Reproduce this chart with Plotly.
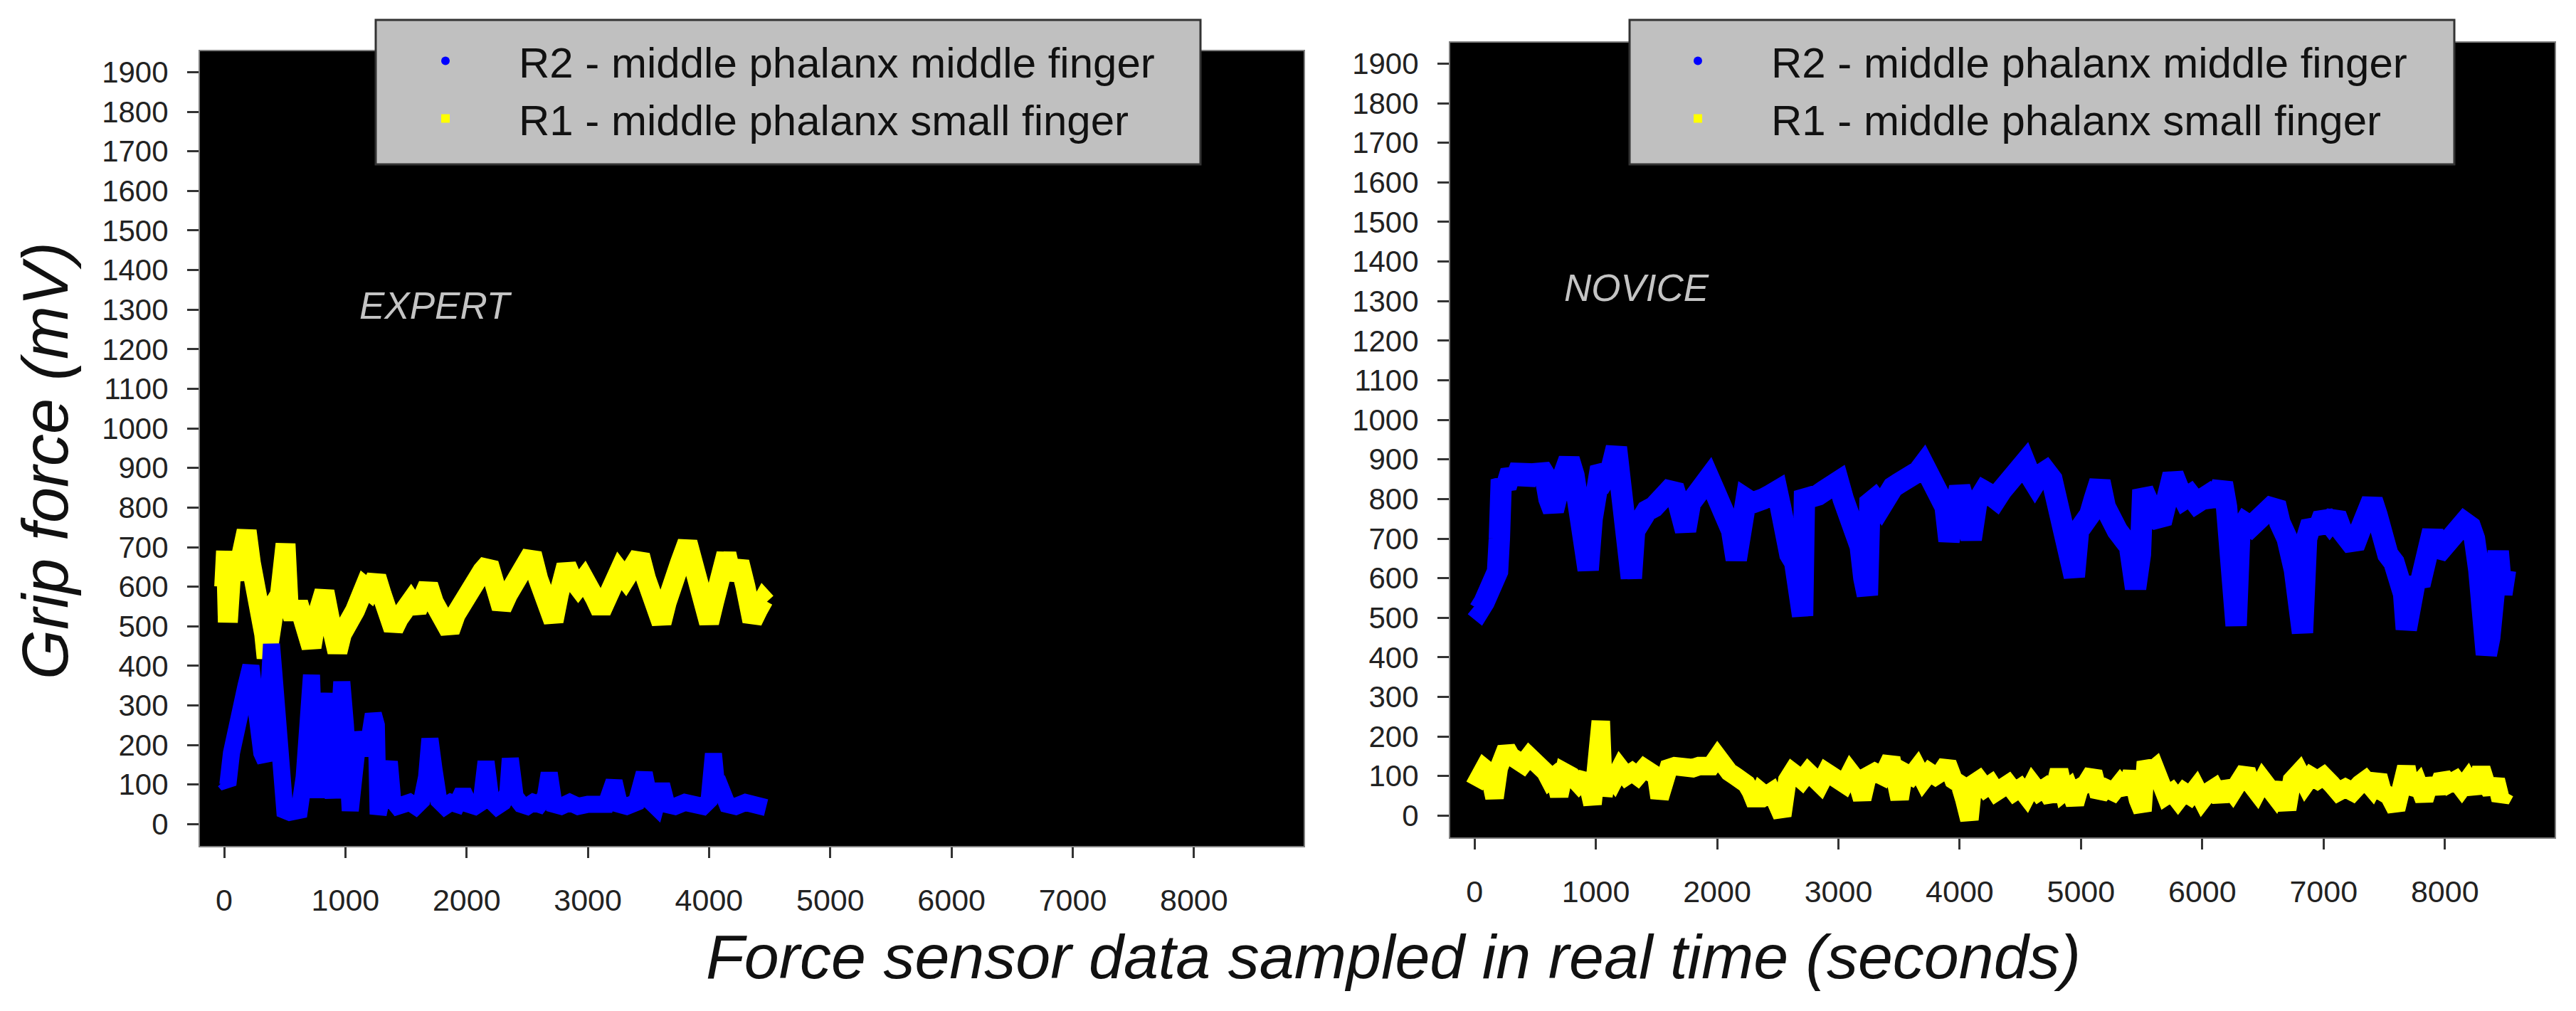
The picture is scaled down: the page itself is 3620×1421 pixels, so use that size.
import plotly.graph_objects as go

# ---------------- data ----------------
X_TICKS = [0, 1000, 2000, 3000, 4000, 5000, 6000, 7000, 8000]
Y_TICKS = list(range(0, 2000, 100))

LABEL_R2 = "R2 - middle phalanx middle finger"
LABEL_R1 = "R1 - middle phalanx small finger"

# EXPERT, R2 (blue)
EXP_R2_T = [0, 30, 60, 100, 140, 180, 220, 250, 280, 310, 340, 370, 390, 410, 440, 470, 500, 540, 580, 620,
            660, 690, 720, 740, 760, 790, 830, 860, 900, 940, 970, 1000, 1040, 1070, 1110, 1150, 1190, 1230, 1255, 1270,
            1300, 1330, 1362, 1390, 1430, 1480, 1530, 1580, 1630, 1670, 1697, 1730, 1770, 1820, 1870, 1920, 1970, 2020, 2070, 2120,
            2160, 2200, 2250, 2300, 2340, 2360, 2400, 2450, 2500, 2550, 2600, 2650, 2681, 2720, 2780, 2850, 2920, 3000, 3080, 3150,
            3216, 3260, 3320, 3400, 3465, 3510, 3560, 3608, 3650, 3720, 3800, 3880, 3950, 4000, 4036, 4070, 4107, 4150, 4220, 4300,
            4370, 4440, 4470]
EXP_R2_V = [110, 100, 180, 260, 310, 350, 400, 300, 220, 180, 160, 300, 455, 380, 200, 60, 35, 30, 30, 35,
            120, 250, 377, 200, 67, 200, 331, 150, 67, 200, 360, 250, 34, 120, 232, 180, 200, 278, 250, 25,
            60, 90, 158, 60, 45, 50, 55, 45, 60, 120, 216, 140, 60, 45, 55, 50, 83, 50, 45, 55,
            158, 60, 45, 55, 80, 166, 70, 50, 45, 55, 50, 70, 129, 50, 45, 55, 45, 50, 45, 50,
            108, 50, 45, 55, 129, 60, 45, 100, 50, 45, 55, 50, 45, 60, 178, 70, 83, 50, 45, 55,
            50, 45, 42]

# EXPERT, R1 (yellow)
EXP_R1_T = [0, 15, 30, 60, 100, 150, 185, 220, 260, 300, 330, 350, 380, 420, 460, 506, 530, 570, 610, 650,
            690, 720, 760, 800, 827, 870, 900, 934, 970, 1010, 1041, 1080, 1120, 1160, 1200, 1255, 1300, 1350, 1397, 1440,
            1490, 1540, 1590, 1640, 1683, 1730, 1780, 1820, 1861, 1910, 1968, 2020, 2080, 2130, 2182, 2230, 2289, 2340, 2390, 2440,
            2490, 2538, 2590, 2640, 2680, 2717, 2760, 2823, 2870, 2920, 2970, 3020, 3060, 3109, 3160, 3210, 3260, 3310, 3370, 3430,
            3480, 3530, 3570, 3608, 3650, 3700, 3760, 3822, 3870, 3920, 3960, 4000, 4040, 4080, 4110, 4143, 4190, 4250, 4300, 4330,
            4357, 4400, 4449, 4470]
EXP_R1_V = [600, 690, 510, 650, 620, 680, 741, 660, 600, 560, 480, 420, 520, 560, 580, 708, 560, 520, 560, 520,
            480, 447, 520, 570, 588, 520, 470, 435, 480, 500, 497, 540, 570, 600, 590, 625, 580, 530, 493, 520,
            550, 563, 540, 580, 604, 560, 520, 500, 488, 530, 563, 600, 620, 640, 658, 600, 546, 580, 610, 640,
            660, 683, 620, 580, 540, 513, 580, 654, 620, 600, 620, 600, 570, 538, 580, 610, 640, 620, 650, 679,
            620, 570, 540, 509, 560, 620, 660, 712, 650, 590, 540, 509, 560, 640, 620, 683, 620, 662, 600, 550,
            513, 540, 567, 560]

# NOVICE, R2 (blue)
NOV_R2_T = [0, 40, 80, 120, 160, 190, 205, 221, 260, 300, 340, 380, 420, 460, 500, 540, 580, 614, 650, 698,
            740, 780, 820, 860, 900, 937, 970, 1000, 1040, 1090, 1130, 1170, 1200, 1240, 1270, 1293, 1320, 1360, 1420, 1480,
            1540, 1597, 1638, 1680, 1709, 1740, 1780, 1830, 1880, 1933, 1980, 2030, 2080, 2120, 2158, 2200, 2240, 2290, 2330, 2380,
            2440, 2495, 2523, 2560, 2600, 2640, 2670, 2705, 2720, 2770, 2832, 2880, 2940, 3000, 3040, 3090, 3140, 3180, 3210, 3239,
            3260, 3300, 3350, 3393, 3450, 3500, 3560, 3617, 3660, 3702, 3740, 3786, 3840, 3880, 3912, 3950, 4000, 4050, 4095, 4140,
            4200, 4258, 4300, 4342, 4400, 4454, 4500, 4538, 4580, 4620, 4660, 4710, 4760, 4800, 4850, 4900, 4945, 4980, 5030, 5072,
            5110, 5156, 5200, 5250, 5300, 5350, 5400, 5450, 5490, 5510, 5550, 5600, 5661, 5700, 5759, 5800, 5850, 5900, 5950, 6000,
            6050, 6100, 6166, 6200, 6240, 6279, 6310, 6350, 6400, 6447, 6500, 6560, 6602, 6640, 6700, 6760, 6800, 6826, 6860, 6900,
            6952, 7000, 7050, 7100, 7149, 7200, 7250, 7300, 7345, 7401, 7440, 7480, 7530, 7580, 7626, 7660, 7682, 7720, 7760, 7794,
            7830, 7870, 7900, 7935, 7991, 8050, 8100, 8160, 8210, 8244, 8280, 8310, 8342, 8370, 8400, 8440, 8470, 8500]
NOV_R2_V = [530, 520, 540, 560, 590, 617, 700, 849, 830, 870, 850, 883, 840, 870, 850, 880, 860, 800, 771, 830,
            870, 900, 860, 800, 700, 621, 750, 850, 880, 860, 880, 930, 850, 760, 680, 600, 720, 750, 770, 780,
            800, 810, 832, 790, 740, 720, 790, 810, 830, 853, 820, 790, 760, 720, 647, 770, 800, 790, 790, 800,
            810, 820, 780, 690, 660, 640, 560, 505, 800, 800, 810, 820, 830, 844, 800, 760, 720, 680, 600, 557,
            790, 800, 780, 810, 830, 840, 850, 857, 870, 887, 860, 820, 800, 780, 694, 800, 830, 780, 698, 790,
            820, 810, 800, 820, 840, 850, 870, 892, 860, 840, 860, 870, 850, 800, 760, 700, 604, 720, 740, 760,
            800, 844, 780, 740, 720, 700, 680, 574, 660, 823, 780, 760, 740, 800, 862, 830, 800, 810, 790, 800,
            810, 790, 840, 780, 650, 480, 720, 740, 730, 740, 760, 780, 789, 740, 700, 620, 540, 462, 700, 740,
            720, 760, 740, 760, 720, 700, 680, 720, 760, 797, 760, 700, 660, 640, 610, 560, 471, 600, 600, 583,
            640, 700, 720, 660, 680, 700, 720, 741, 730, 700, 620, 500, 407, 450, 580, 668, 560, 620]

# NOVICE, R1 (yellow)
NOV_R1_T = [0, 40, 80, 120, 165, 200, 263, 300, 350, 400, 450, 500, 550, 586, 620, 660, 698, 740, 800, 860,
            920, 973, 1000, 1020, 1041, 1055, 1063, 1100, 1150, 1200, 1250, 1300, 1344, 1400, 1450, 1500, 1526, 1560, 1600, 1650,
            1700, 1750, 1800, 1850, 1900, 1950, 2004, 2050, 2100, 2150, 2200, 2242, 2280, 2320, 2360, 2400, 2450, 2500, 2537, 2579,
            2620, 2663, 2700, 2750, 2800, 2850, 2900, 2944, 3000, 3050, 3100, 3150, 3196, 3240, 3300, 3365, 3435, 3470, 3505, 3540,
            3600, 3650, 3700, 3750, 3800, 3850, 3898, 3950, 4000, 4039, 4080, 4110, 4160, 4210, 4258, 4300, 4350, 4400, 4450, 4500,
            4550, 4600, 4650, 4700, 4760, 4819, 4860, 4900, 4950, 4987, 5040, 5100, 5150, 5200, 5268, 5320, 5370, 5420, 5470, 5507,
            5535, 5570, 5610, 5661, 5700, 5750, 5800, 5850, 5900, 5950, 6000, 6050, 6100, 6150, 6200, 6250, 6300, 6363, 6400, 6450,
            6500, 6550, 6600, 6643, 6700, 6740, 6800, 6850, 6896, 6950, 7000, 7064, 7120, 7180, 7240, 7300, 7345, 7400, 7450, 7486,
            7540, 7598, 7640, 7682, 7720, 7780, 7830, 7880, 7930, 7980, 8030, 8090, 8140, 8188, 8240, 8300, 8340, 8380, 8420, 8460,
            8496]
NOV_R1_V = [75, 90, 120, 110, 45, 120, 170, 150, 140, 130, 150, 140, 120, 110, 90, 100, 50, 110, 100, 80,
            100, 29, 110, 160, 239, 130, 50, 110, 90, 120, 100, 110, 100, 120, 110, 100, 45, 110, 120, 125,
            120, 125, 120, 125, 130, 125, 149, 120, 110, 100, 90, 80, 60, 30, 60, 50, 60, 20, 0, 90,
            110, 100, 90, 110, 100, 80, 110, 100, 90, 80, 110, 90, 42, 100, 110, 100, 145, 100, 42, 110,
            100, 120, 90, 110, 100, 110, 132, 90, 80, 40, -10, 80, 90, 70, 80, 60, 70, 80, 60, 70,
            50, 80, 60, 70, 40, 115, 60, 70, 30, 70, 80, 110, 50, 70, 60, 80, 60, 110, 40, 12,
            136, 110, 120, 70, 50, 60, 40, 60, 50, 70, 40, 60, 70, 40, 80, 60, 90, 115, 80, 60,
            90, 70, 50, 80, 16, 90, 110, 80, 100, 90, 100, 80, 60, 70, 60, 80, 90, 70, 100, 60,
            50, 16, 80, 123, 60, 80, 40, 90, 60, 100, 80, 90, 70, 90, 60, 119, 80, 60, 90, 40,
            60]

for a, b in [(EXP_R2_T, EXP_R2_V), (EXP_R1_T, EXP_R1_V), (NOV_R2_T, NOV_R2_V), (NOV_R1_T, NOV_R1_V)]:
    assert len(a) == len(b), (len(a), len(b))

# ---------------- styling ----------------
W, H = 3620, 1421
FONT = "Liberation Sans, Arial, Helvetica, sans-serif"
BLUE = "#0000ff"
YELLOW = "#ffff00"


def px(xp):
    return xp / W


def py(yp):
    return 1 - yp / H


fig = go.Figure()

fig.add_trace(go.Scatter(x=EXP_R1_T, y=EXP_R1_V, mode="lines", line=dict(color=YELLOW, width=28),
                         xaxis="x", yaxis="y", showlegend=False, name=LABEL_R1))
fig.add_trace(go.Scatter(x=EXP_R2_T, y=EXP_R2_V, mode="lines", line=dict(color=BLUE, width=24),
                         xaxis="x", yaxis="y", showlegend=False, name=LABEL_R2))
fig.add_trace(go.Scatter(x=NOV_R2_T, y=NOV_R2_V, mode="lines", line=dict(color=BLUE, width=30),
                         xaxis="x2", yaxis="y2", showlegend=False, name=LABEL_R2))
fig.add_trace(go.Scatter(x=NOV_R1_T, y=NOV_R1_V, mode="lines", line=dict(color=YELLOW, width=26),
                         xaxis="x2", yaxis="y2", showlegend=False, name=LABEL_R1))

# legend entries (one legend per panel)
for lg in ["legend", "legend2"]:
    fig.add_trace(go.Scatter(x=[None], y=[None], mode="markers", name=LABEL_R2, legend=lg,
                             marker=dict(color=BLUE, size=12, symbol="circle")))
    fig.add_trace(go.Scatter(x=[None], y=[None], mode="markers", name=LABEL_R1, legend=lg,
                             marker=dict(color=YELLOW, size=12, symbol="square")))

axis_common = dict(
    ticks="outside", tickwidth=3, tickcolor="#333333",
    showgrid=False, zeroline=False,
    showline=True, linecolor="#7f7f7f", linewidth=2, mirror=True,
    tickfont=dict(family=FONT, size=43, color="#222222"),
    fixedrange=True,
)

xa = dict(axis_common, range=[-200, 8905], tickvals=X_TICKS, ticklen=15, ticklabelstandoff=22)
ya = dict(axis_common, range=[-55, 1953], tickvals=Y_TICKS, ticklen=16, ticklabelstandoff=18)
ya["tickfont"] = dict(family=FONT, size=42, color="#222222")

legend_common = dict(
    xanchor="left", yanchor="top", bgcolor="rgba(0,0,0,0)", borderwidth=0,
    font=dict(family=FONT, size=60, color="#111111"), itemwidth=196, tracegroupgap=0,
)

fig.update_layout(
    width=W, height=H,
    margin=dict(l=0, r=0, t=0, b=0),
    paper_bgcolor="white", plot_bgcolor="black",
    xaxis=dict(xa, domain=[px(273), px(1824)], anchor="y"),
    yaxis=dict(ya, domain=[py(1181), py(64)], anchor="x"),
    xaxis2=dict(xa, domain=[px(2030), px(3582)], anchor="y2"),
    yaxis2=dict(ya, domain=[py(1169), py(52)], anchor="x2"),
    legend=dict(legend_common, x=px(515), y=py(32)),
    legend2=dict(legend_common, x=px(2275), y=py(32)),
    shapes=[
        dict(type="rect", xref="paper", yref="paper", x0=px(520), x1=px(1679), y0=py(223), y1=py(20),
             fillcolor="#c0c0c0", line=dict(color="#333333", width=3), layer="above"),
        dict(type="rect", xref="paper", yref="paper", x0=px(2282), x1=px(3441), y0=py(223), y1=py(20),
             fillcolor="#c0c0c0", line=dict(color="#333333", width=3), layer="above"),
    ],
    annotations=[
        dict(text="<i>EXPERT</i>", xref="paper", yref="paper", x=px(604), y=py(422),
             xanchor="center", yanchor="middle", showarrow=False,
             font=dict(family=FONT, size=53, color="#c4c4c4")),
        dict(text="<i>NOVICE</i>", xref="paper", yref="paper", x=px(2292), y=py(396),
             xanchor="center", yanchor="middle", showarrow=False,
             font=dict(family=FONT, size=53, color="#c4c4c4")),
        dict(text="<i>Force sensor data sampled in real time (seconds)</i>", xref="paper", yref="paper",
             x=px(1950), y=py(1336), xanchor="center", yanchor="middle", showarrow=False,
             font=dict(family=FONT, size=88, color="#111111")),
        dict(text="<i>Grip force (mV)</i>", xref="paper", yref="paper",
             x=px(56), y=py(640), xanchor="center", yanchor="middle", showarrow=False, textangle=-90,
             font=dict(family=FONT, size=90, color="#111111")),
    ],
)

fig.write_html("out.html")
